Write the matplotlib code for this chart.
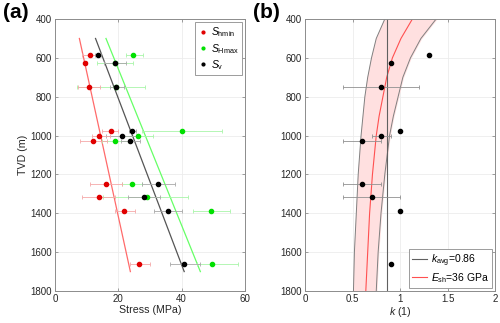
import numpy as np
import matplotlib
matplotlib.use('Agg')
import matplotlib.pyplot as plt
from matplotlib.lines import Line2D

plt.rcParams['font.family'] = ['Liberation Sans', 'DejaVu Sans']
plt.rcParams['mathtext.fontset'] = 'custom'
plt.rcParams['mathtext.rm'] = 'Liberation Sans'
plt.rcParams['mathtext.it'] = 'Liberation Sans:italic'

# --- panel (a): stresses vs depth
depth = [585, 628, 749, 975, 1000, 1030, 1250, 1315, 1390, 1660]
shmin = [11.0, 9.5, 10.6, 17.6, 14.0, 12.1, 16.0, 13.8, 21.8, 26.4]
shmin_lo = [8.6, 9.0, 7.4, 14.7, 11.6, 7.9, 11.0, 8.6, 19.0, 23.7]
shmin_hi = [13.2, 10.0, 14.2, 20.0, 17.4, 16.3, 21.0, 19.0, 25.3, 30.0]
shmax = [24.5, 19.0, 19.4, 40.0, 26.1, 19.0, 24.4, 29.0, 49.2, 49.5]
shmax_lo = [22.4, 13.2, 6.8, 27.4, 21.0, 14.7, 21.0, 15.3, 43.7, 44.7]
shmax_hi = [27.9, 24.6, 28.3, 52.6, 31.0, 23.0, 27.5, 42.0, 55.3, 57.9]
sv = [13.6, 18.9, 19.4, 24.4, 21.3, 23.7, 32.6, 28.0, 35.8, 40.7]
sv_lo = [12.6, 15.6, 17.5, 23.3, 16.0, 20.9, 27.6, 23.0, 31.3, 36.3]
sv_hi = [14.6, 22.3, 21.7, 25.5, 25.5, 26.7, 37.9, 33.2, 40.0, 45.8]

trend_depth = [500, 1700]
shmin_trend = [7.7, 23.8]
shmax_trend = [16.1, 45.9]
sv_trend = [12.8, 40.8]

# --- panel (b): k ratio vs depth
k_depth = [585, 628, 749, 975, 1000, 1030, 1250, 1315, 1390, 1660]
k_val = [1.3, 0.9, 0.8, 1.0, 0.8, 0.6, 0.6, 0.7, 1.0, 0.9]
k_lo = [1.3, 0.9, 0.4, 1.0, 0.7, 0.4, 0.4, 0.4, 1.0, 0.9]
k_hi = [1.3, 0.9, 1.2, 1.0, 0.9, 0.8, 0.8, 1.0, 1.0, 0.9]
k_avg = 0.86

curve_depth = [400, 500, 600, 700, 800, 900, 1000, 1200, 1400, 1600, 1800]
k_esh = [1.13, 1.01, 0.92, 0.86, 0.82, 0.78, 0.75, 0.71, 0.68, 0.66, 0.64]
k_esh_lo = [0.84, 0.75, 0.70, 0.66, 0.63, 0.61, 0.59, 0.56, 0.54, 0.52, 0.51]
k_esh_hi = [1.38, 1.22, 1.11, 1.03, 0.98, 0.93, 0.89, 0.84, 0.80, 0.77, 0.75]

fig = plt.figure(figsize=(5, 3.23), dpi=100)
ax1 = fig.add_axes([0.11, 0.099, 0.38, 0.842])
ax2 = fig.add_axes([0.61, 0.099, 0.38, 0.842])


def style(ax):
    for s in ax.spines.values():
        s.set_color('#8c8c8c')
        s.set_linewidth(0.7)
    ax.tick_params(direction='in', length=2.5, width=0.6, color='#8c8c8c',
                   labelsize=7, labelcolor='#262626', top=True, right=True,
                   pad=2)
    ax.grid(True, color='#ececec', linewidth=0.6)
    ax.set_axisbelow(True)
    ax.set_ylim(1800, 400)
    ax.set_yticks(range(400, 1801, 200))


def xerr(v, lo, hi):
    v = np.array(v)
    return [v - np.array(lo), np.array(hi) - v]


ax1.plot(shmin_trend, trend_depth, color='#ff6a6a', lw=0.9, zorder=2)
ax1.plot(sv_trend, trend_depth, color='#555555', lw=0.9, zorder=2)
ax1.plot(shmax_trend, trend_depth, color='#66ff66', lw=0.9, zorder=2)

for v, lo, hi, ec, mc in [(shmax, shmax_lo, shmax_hi, '#a8f5a8', '#00e000'),
                          (sv, sv_lo, sv_hi, '#a8a8a8', 'black'),
                          (shmin, shmin_lo, shmin_hi, '#f5a8a8', '#e00000')]:
    ax1.errorbar(v, depth, xerr=xerr(v, lo, hi), fmt='o', ms=3, color=mc,
                 ecolor=ec, elinewidth=0.6, capsize=1.2, capthick=0.6, zorder=3)

style(ax1)
ax1.set_xlim(0, 60)
ax1.set_xticks([0, 20, 40, 60])
ax1.set_xlabel('Stress (MPa)', fontsize=7.7, color='#262626', labelpad=1)
ax1.set_ylabel('TVD (m)', fontsize=7.7, color='#262626', labelpad=2)

handles = [Line2D([], [], ls='none', marker='.', ms=4, color='#e00000'),
           Line2D([], [], ls='none', marker='.', ms=4, color='#00e000'),
           Line2D([], [], ls='none', marker='.', ms=4, color='black')]
leg = ax1.legend(handles, [r'$S_\mathrm{hmin}$', r'$S_\mathrm{Hmax}$', r'$S_\mathrm{v}$'],
                 loc='upper right', fontsize=7.5, handlelength=0.8,
                 handletextpad=0.4, borderpad=0.3, labelspacing=0.25,
                 fancybox=False, framealpha=1, borderaxespad=0.3)
leg.get_frame().set_edgecolor('#8c8c8c')
leg.get_frame().set_linewidth(0.6)

ax2.fill_betweenx(curve_depth, k_esh_lo, k_esh_hi, color='#ffe0e0', zorder=1)
ax2.plot(k_esh_lo, curve_depth, color='#808080', lw=0.7, zorder=2)
ax2.plot(k_esh_hi, curve_depth, color='#808080', lw=0.7, zorder=2)
ax2.plot(k_esh, curve_depth, color='#ff5050', lw=0.8, zorder=2,
         label=r'$E_\mathrm{sh}$=36 GPa')
ax2.axvline(k_avg, color='#606060', lw=0.8, zorder=2,
            label=r'$k_\mathrm{avg}$=0.86')
ax2.errorbar(k_val, k_depth, xerr=xerr(k_val, k_lo, k_hi), fmt='o', ms=3,
             color='black', ecolor='#909090', elinewidth=0.6, capsize=1.2,
             capthick=0.6, zorder=3)

style(ax2)
ax2.set_xlim(0, 2)
ax2.set_xticks([0, 0.5, 1, 1.5, 2])
ax2.set_xticklabels(['0', '0.5', '1', '1.5', '2'])
ax2.set_xlabel(r'$k$ (1)', fontsize=7.7, color='#262626', labelpad=1)

h, l = ax2.get_legend_handles_labels()
leg2 = ax2.legend([h[1], h[0]], [l[1], l[0]], loc='lower right', fontsize=7.5,
                  handlelength=1.5, handletextpad=0.3, borderpad=0.3,
                  labelspacing=0.2, fancybox=False, framealpha=1,
                  borderaxespad=0.3)
leg2.get_frame().set_edgecolor('#8c8c8c')
leg2.get_frame().set_linewidth(0.6)

fig.text(0.005, 0.99, '(a)', fontsize=15, fontweight='bold', va='top', ha='left')
fig.text(0.505, 0.99, '(b)', fontsize=15, fontweight='bold', va='top', ha='left')

fig.savefig('out.png', dpi=100)
